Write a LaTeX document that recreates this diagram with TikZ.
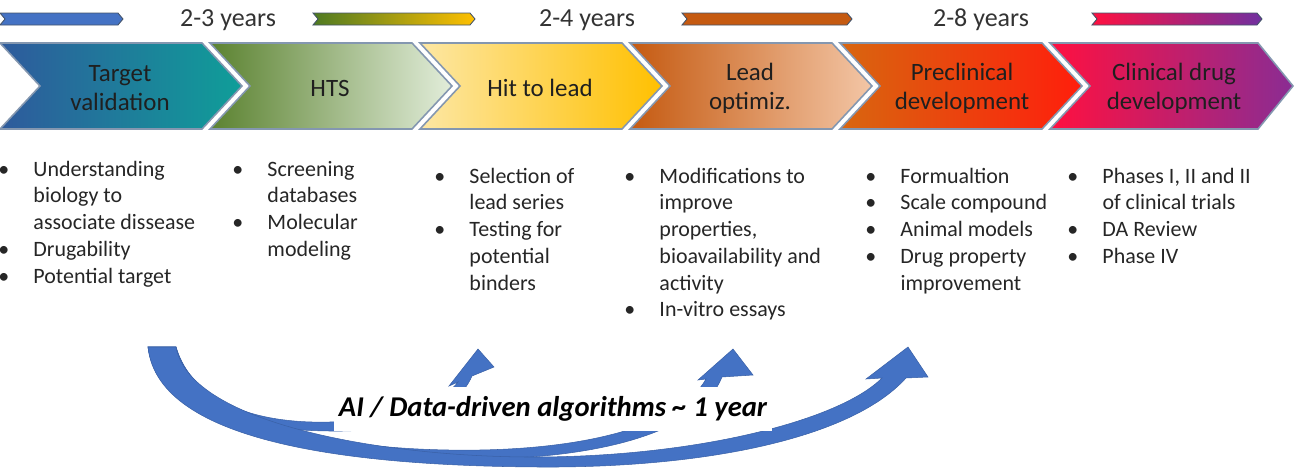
\documentclass[tikz,border=0pt]{standalone}
\usepackage{fontspec}
\setmainfont{Carlito}

\definecolor{tvL}{HTML}{2E5A9C}
\definecolor{tvR}{HTML}{0F9E99}
\definecolor{htsL}{HTML}{5B8230}
\definecolor{htsR}{HTML}{E2EDDA}
\definecolor{hitL}{HTML}{FDE7A4}
\definecolor{hitR}{HTML}{FFC000}
\definecolor{loL}{HTML}{C55A11}
\definecolor{loR}{HTML}{F3C6A6}
\definecolor{preL}{HTML}{D8660F}
\definecolor{preR}{HTML}{FF1E0C}
\definecolor{cddL}{HTML}{FF1040}
\definecolor{cddM}{HTML}{D21F6C}
\definecolor{cddR}{HTML}{8A2C93}
\definecolor{bandG}{HTML}{4E7A22}
\definecolor{bandP}{HTML}{7030A0}
\definecolor{aiblue}{HTML}{4472C4}
\definecolor{stageedge}{HTML}{8497B0}
\definecolor{bandedge}{HTML}{44546A}

\begin{document}
\begin{tikzpicture}[x=0.02cm, y=-0.02cm,
        stage/.style={draw=stageedge, line width=0.9pt},
        band/.style={draw=bandedge, line width=0.5pt},
        swoosh/.style={fill=aiblue, draw=aiblue!85!black, line width=0.3pt},
        stagetext/.style={font=\fontsize{14.2}{16.5}\selectfont, text=black!88, align=center},
        years/.style={font=\fontsize{14.8}{17}\selectfont, text=black!80},
        items/.style={anchor=base west, inner sep=0pt, font=\fontsize{12.5}{15.25}\selectfont, text=black!85},
        aitext/.style={fill=white, inner xsep=3pt, inner ysep=5.5pt, font=\fontsize{16.3}{19}\selectfont\bfseries\itshape}
    ]
        \useasboundingbox (0,0) rectangle (1294,470);

        % === Time bands ===
        \draw[band, fill=aiblue] (0,13) -- (118,13) -- (123,19) -- (118,25) -- (0,25) -- (5,19) -- cycle;
        \shadedraw[band, left color=bandG, right color=hitR] (313,13) -- (470,13) -- (475,19) -- (470,25) -- (313,25) -- (318,19) -- cycle;
        \draw[band, fill=loL] (682,13) -- (847,13) -- (852,19) -- (847,25) -- (682,25) -- (687,19) -- cycle;
        \shadedraw[band, left color=cddL, right color=bandP] (1092,13) -- (1257,13) -- (1262,19) -- (1257,25) -- (1092,25) -- (1097,19) -- cycle;

        \node[years] (y23) at (228,20) {2-3 years};
        \node[years] (y24) at (587,20) {2-4 years};
        \node[years] (y28) at (981,20) {2-8 years};

        % === Stages ===
        \shadedraw[stage, left color=tvL, right color=tvR] (0,43) -- (202,43) -- (242,86) -- (202,129) -- (0,129) -- (40,86) -- cycle;
        \shadedraw[stage, left color=htsL, right color=htsR] (210,43) -- (412,43) -- (452,86) -- (412,129) -- (210,129) -- (250,86) -- cycle;
        \shadedraw[stage, left color=hitL, right color=hitR] (420,43) -- (622,43) -- (662,86) -- (622,129) -- (420,129) -- (460,86) -- cycle;
        \shadedraw[stage, left color=loL, right color=loR] (630,43) -- (832,43) -- (872,86) -- (832,129) -- (630,129) -- (670,86) -- cycle;
        \shadedraw[stage, left color=preL, right color=preR] (840,43) -- (1042,43) -- (1082,86) -- (1042,129) -- (840,129) -- (880,86) -- cycle;
        \shadedraw[stage, left color=cddL, middle color=cddM, right color=cddR] (1050,43) -- (1258,43) -- (1293,86) -- (1258,129) -- (1050,129) -- (1090,86) -- cycle;

        \node[stagetext] (tv) at (120,88) {Target\\validation};
        \node[stagetext] (hts) at (330,88) {HTS};
        \node[stagetext] (htl) at (540,88) {Hit to lead};
        \node[stagetext] (lo) at (750,88) {Lead\\optimiz.};
        \node[stagetext] (pre) at (962,88) {Preclinical\\development};
        \node[stagetext] (cdd) at (1174,88) {Clinical drug\\development};

        % === Tasks ===
        \node[items] (tvlist) at (-2,176) {\begin{tabular}[t]{@{}p{20pt}@{}l@{}}
            \textbullet & Understanding\\ & biology to\\ & associate dissease\\
            \textbullet & Drugability\\ \textbullet & Potential target\end{tabular}};
        \node[items] (htslist) at (232,176) {\begin{tabular}[t]{@{}p{20pt}@{}l@{}}
            \textbullet & Screening\\ & databases\\ \textbullet & Molecular\\ & modeling\end{tabular}};
        \node[items] (htllist) at (434,183) {\begin{tabular}[t]{@{}p{20pt}@{}l@{}}
            \textbullet & Selection of\\ & lead series\\ \textbullet & Testing for\\ & potential\\ & binders\end{tabular}};
        \node[items] (lolist) at (624,183) {\begin{tabular}[t]{@{}p{20pt}@{}l@{}}
            \textbullet & Modifications to\\ & improve\\ & properties,\\ & bioavailability and\\ & activity\\
            \textbullet & In-vitro essays\end{tabular}};
        \node[items] (prelist) at (865,183) {\begin{tabular}[t]{@{}p{20pt}@{}l@{}}
            \textbullet & Formualtion\\ \textbullet & Scale compound\\ \textbullet & Animal models\\
            \textbullet & Drug property\\ & improvement\end{tabular}};
        \node[items] (cddlist) at (1067,183) {\begin{tabular}[t]{@{}p{20pt}@{}l@{}}
            \textbullet & Phases I, II and II\\ & of clinical trials\\ \textbullet & DA Review\\ \textbullet & Phase IV\end{tabular}};

        % === AI shortcut ===
        \filldraw[swoosh] (148,347) -- (176,347) .. controls (192,402) and (255,424) .. (330,422)
            .. controls (400,420) and (445,400) .. (458,382) -- (449,386) -- (478,349) -- (494,367) -- (472,376)
            .. controls (455,415) and (400,432) .. (330,431) .. controls (240,430) and (158,410) .. (148,347) -- cycle;
        \filldraw[swoosh] (148,347) -- (176,347) .. controls (200,432) and (360,452) .. (480,450)
            .. controls (590,448) and (680,425) .. (706,379) -- (698,380) -- (733,349) -- (753,375) -- (722,377)
            .. controls (700,432) and (600,458) .. (480,459) .. controls (340,460) and (160,440) .. (148,347) -- cycle;
        \filldraw[swoosh] (148,347) -- (176,347) .. controls (190,425) and (390,458) .. (540,457)
            .. controls (700,456) and (840,420) .. (882,378) -- (866,379) -- (908,347) -- (928,377) -- (906,378)
            .. controls (850,440) and (700,468) .. (540,467) .. controls (360,466) and (158,445) .. (148,347) -- cycle;

        \node[aitext] (ai) at (553,409) {AI / Data-driven algorithms \textasciitilde{} 1 year};
    \end{tikzpicture}
\end{document}
